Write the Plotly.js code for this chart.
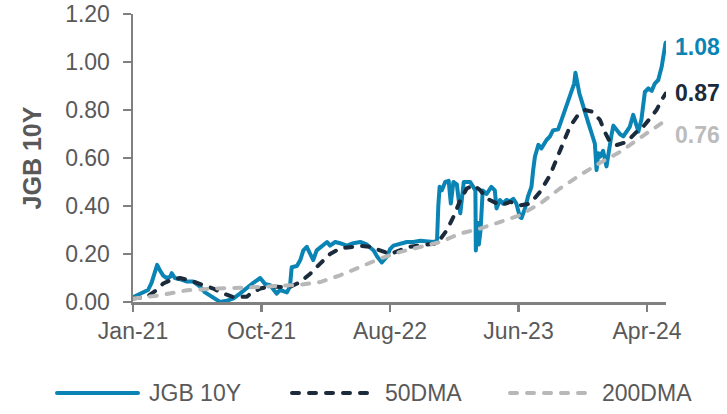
<!DOCTYPE html>
<html>
<head>
<meta charset="utf-8">
<script src="https://cdn.plot.ly/plotly-3.0.1.min.js"></script>
<style>
  html, body { margin: 0; padding: 0; background: #fff; }
  #chart { width: 727px; height: 414px; }
  .js-line { stroke-linecap: round; stroke-linejoin: round; }
  .shapelayer path { stroke-linecap: round; }
</style>
</head>
<body>
<div id="chart"></div>
<script>
// ---- Data ----
const jgbDates = [
  '2021-01-04','2021-01-15','2021-01-28','2021-02-08','2021-02-16','2021-02-24','2021-03-01','2021-03-08',
  '2021-03-15','2021-03-23','2021-03-31','2021-04-04','2021-04-11','2021-04-23','2021-05-09','2021-05-24',
  '2021-06-08','2021-06-20','2021-07-09','2021-07-25','2021-08-09','2021-08-25','2021-09-09','2021-09-25',
  '2021-10-10','2021-10-26','2021-11-06','2021-11-18','2021-11-26','2021-12-03','2021-12-11','2021-12-27',
  '2022-01-03','2022-01-07','2022-01-19','2022-01-27','2022-02-03','2022-02-11','2022-02-19','2022-02-26',
  '2022-03-06','2022-03-18','2022-03-30','2022-04-06','2022-04-18','2022-04-29','2022-05-15','2022-05-30',
  '2022-06-15','2022-06-30','2022-07-16','2022-07-24','2022-08-04','2022-08-16','2022-08-23','2022-08-31',
  '2022-09-16','2022-10-01','2022-10-16','2022-11-01','2022-12-02','2022-12-10','2022-12-13','2022-12-16',
  '2022-12-21','2022-12-29',
  '2023-01-06','2023-01-11','2023-01-17','2023-01-25','2023-02-02','2023-02-10','2023-02-25','2023-03-09',
  '2023-03-10','2023-03-14','2023-03-17','2023-03-21','2023-03-26','2023-04-04','2023-04-15','2023-04-23',
  '2023-04-27','2023-05-05','2023-05-12','2023-05-20','2023-05-28','2023-06-05','2023-06-12','2023-06-20',
  '2023-06-24','2023-07-02','2023-07-09','2023-07-17','2023-07-21','2023-07-25','2023-08-02','2023-08-09',
  '2023-08-21','2023-08-29','2023-09-05','2023-09-17','2023-09-25','2023-10-03','2023-10-10','2023-10-18',
  '2023-10-24','2023-10-27','2023-10-31','2023-11-05','2023-11-10','2023-11-18','2023-11-26','2023-12-04',
  '2023-12-11','2023-12-15','2023-12-19','2023-12-23','2023-12-30',
  '2024-01-07','2024-01-11','2024-01-19','2024-01-23','2024-01-30','2024-02-07','2024-02-15','2024-02-23',
  '2024-03-01','2024-03-09','2024-03-13','2024-03-21','2024-03-28','2024-04-05','2024-04-13','2024-04-21',
  '2024-04-28','2024-05-06','2024-05-14','2024-05-17','2024-05-21','2024-05-23'
];
const jgbValues = [
  0.02,0.03,0.04,0.05,0.08,0.12,0.155,0.13,
  0.11,0.10,0.105,0.12,0.10,0.095,0.085,0.085,
  0.065,0.04,0.02,0.0,0.005,0.015,0.035,0.06,
  0.08,0.10,0.075,0.07,0.05,0.035,0.05,0.04,
  0.065,0.145,0.15,0.175,0.215,0.23,0.20,0.175,
  0.215,0.235,0.25,0.235,0.25,0.245,0.235,0.245,
  0.25,0.24,0.215,0.19,0.165,0.19,0.22,0.235,
  0.245,0.25,0.25,0.255,0.25,0.255,0.40,0.48,
  0.465,0.50,
  0.505,0.41,0.50,0.49,0.37,0.50,0.50,0.465,
  0.215,0.33,0.24,0.30,0.465,0.45,0.48,0.465,
  0.39,0.425,0.41,0.425,0.42,0.43,0.41,0.355,
  0.35,0.39,0.44,0.48,0.55,0.605,0.655,0.64,
  0.675,0.69,0.715,0.72,0.76,0.80,0.84,0.87,
  0.91,0.955,0.91,0.87,0.84,0.785,0.745,0.70,
  0.66,0.55,0.62,0.605,0.63,
  0.565,0.62,0.70,0.735,0.72,0.70,0.69,0.71,
  0.73,0.78,0.76,0.71,0.76,0.875,0.89,0.88,
  0.91,0.925,0.98,1.015,1.04,1.08
];

const dma50Dates = [
  '2021-01-04','2021-02-04','2021-02-28','2021-03-15','2021-03-31','2021-04-23','2021-05-16','2021-06-08',
  '2021-07-09','2021-07-29','2021-08-25','2021-09-25','2021-10-02','2021-10-26','2021-11-18','2021-12-11',
  '2022-01-03','2022-01-27','2022-02-19','2022-03-14','2022-04-06','2022-04-29','2022-05-22','2022-06-15',
  '2022-07-08','2022-07-31','2022-08-23','2022-09-16','2022-10-09','2022-11-17','2022-12-10',
  '2023-01-02','2023-01-17','2023-02-02','2023-02-17','2023-03-05','2023-03-20','2023-04-05','2023-05-06',
  '2023-05-29','2023-06-21','2023-07-14','2023-08-06','2023-08-29','2023-09-13','2023-09-29','2023-10-14',
  '2023-11-02','2023-11-18','2023-12-07','2023-12-23',
  '2024-01-03','2024-01-15','2024-01-31','2024-02-23','2024-03-17','2024-04-01','2024-04-17','2024-05-02',
  '2024-05-12','2024-05-23'
];
const dma50Values = [
  0.015,0.02,0.05,0.077,0.09,0.10,0.09,0.077,
  0.056,0.038,0.02,0.022,0.033,0.056,0.065,0.063,
  0.063,0.083,0.118,0.16,0.20,0.223,0.23,0.234,
  0.23,0.216,0.20,0.216,0.23,0.24,0.243,
  0.30,0.355,0.424,0.473,0.487,0.466,0.431,0.403,
  0.417,0.403,0.41,0.459,0.528,0.595,0.674,0.73,
  0.779,0.80,0.792,0.758,
  0.709,0.667,0.654,0.667,0.709,0.73,0.765,0.80,
  0.835,0.868
];

const dma200Dates = [
  '2021-01-04','2021-03-08','2021-05-09','2021-07-09','2021-09-25','2021-12-11',
  '2022-01-27','2022-03-14','2022-04-29','2022-06-15','2022-07-31','2022-09-16','2022-11-01','2022-12-17',
  '2023-02-02','2023-03-20','2023-05-06','2023-06-21','2023-08-06','2023-09-21','2023-11-06','2023-12-23',
  '2024-02-07','2024-04-09','2024-05-23'
];
const dma200Values = [
  0.014,0.028,0.049,0.056,0.06,0.07,
  0.072,0.083,0.111,0.146,0.181,0.209,0.23,0.25,
  0.285,0.306,0.334,0.362,0.41,0.473,0.528,0.58,
  0.625,0.70,0.757
];

const seriesNames = ['JGB 10Y', '50DMA', '200DMA'];
const tickDates = ['2021-01-04','2021-10-29','2022-08-23','2023-06-17','2024-04-10'];
const tickLabels = ['Jan-21','Oct-21','Aug-22','Jun-23','Apr-24'];

// ---- Styling ----
const FONT = 'Arial, "Liberation Sans", sans-serif';
const TEAL = '#0a84b4';
const NAVY = '#1c2b3b';
const GREY = '#b8b8b8';
const TEXT = '#595959';
const AXIS = '#808080';
const DASH = '7px,10px';

const W = 727, H = 414;
const M = { l: 133, r: 61, t: 14, b: 112 };
const PW = W - M.l - M.r, PH = H - M.t - M.b;
const px = x => (x - M.l) / PW;          // pixel -> paper x
const py = y => (H - M.b - y) / PH;      // pixel -> paper y

const traces = [
  { x: jgbDates, y: jgbValues, name: seriesNames[0], type: 'scatter', mode: 'lines',
    line: { color: TEAL, width: 4 } },
  { x: dma50Dates, y: dma50Values, name: seriesNames[1], type: 'scatter', mode: 'lines',
    line: { color: NAVY, width: 4, dash: DASH } },
  { x: dma200Dates, y: dma200Values, name: seriesNames[2], type: 'scatter', mode: 'lines',
    line: { color: GREY, width: 4, dash: DASH } }
];

const last = a => a[a.length - 1];
const endLabels = [
  { v: last(jgbValues), color: TEAL, y: 47 },
  { v: last(dma50Values), color: NAVY, y: 93 },
  { v: last(dma200Values), color: '#bcbcbc', y: 135 }
];

const annotations = endLabels.map(e => ({
  xref: 'paper', yref: 'paper', x: px(673), y: py(e.y), xanchor: 'left', yanchor: 'middle',
  text: e.v.toFixed(2), showarrow: false,
  font: { family: FONT, size: 23, color: e.color, weight: 'bold' }
}));

// custom legend
const legendY = 393;
const legendItems = [
  { x0: 57, x1: 138, tx: 147, color: TEAL, dash: 'solid' },
  { x0: 292, x1: 375, tx: 383, color: NAVY, dash: DASH },
  { x0: 510, x1: 594, tx: 600, color: GREY, dash: DASH }
];
const shapes = legendItems.map(it => ({
  type: 'line', xref: 'paper', yref: 'paper',
  x0: px(it.x0), x1: px(it.x1), y0: py(legendY), y1: py(legendY),
  line: { color: it.color, width: 4, dash: it.dash }
}));
legendItems.forEach((it, i) => annotations.push({
  xref: 'paper', yref: 'paper', x: px(it.tx), y: py(legendY), xanchor: 'left', yanchor: 'middle',
  text: seriesNames[i], showarrow: false,
  font: { family: FONT, size: 23, color: TEXT }
}));

const layout = {
  width: W, height: H,
  margin: M,
  paper_bgcolor: '#fff', plot_bgcolor: '#fff',
  showlegend: false,
  font: { family: FONT, size: 23, color: TEXT },
  xaxis: {
    type: 'date',
    range: ['2021-01-04', '2024-05-24'],
    tickvals: tickDates, ticktext: tickLabels,
    showgrid: false, zeroline: false,
    showline: true, linecolor: AXIS, linewidth: 2.5,
    ticks: 'outside', ticklen: 7, tickwidth: 2.5, tickcolor: AXIS,
    tickfont: { family: FONT, size: 23, color: TEXT }
  },
  yaxis: {
    range: [0, 1.2], dtick: 0.2, tick0: 0, tickformat: '.2f',
    showgrid: false, zeroline: false,
    showline: true, linecolor: AXIS, linewidth: 2.5,
    ticks: 'outside', ticklen: 8, tickwidth: 2.5, tickcolor: AXIS,
    ticklabelstandoff: 8,
    tickfont: { family: FONT, size: 23, color: TEXT },
    title: { text: 'JGB 10Y', standoff: 17,
             font: { family: FONT, size: 25, color: TEXT, weight: 'bold' } }
  },
  annotations: annotations,
  shapes: shapes
};

Plotly.newPlot('chart', traces, layout, { displayModeBar: false, staticPlot: true });
</script>
</body>
</html>
